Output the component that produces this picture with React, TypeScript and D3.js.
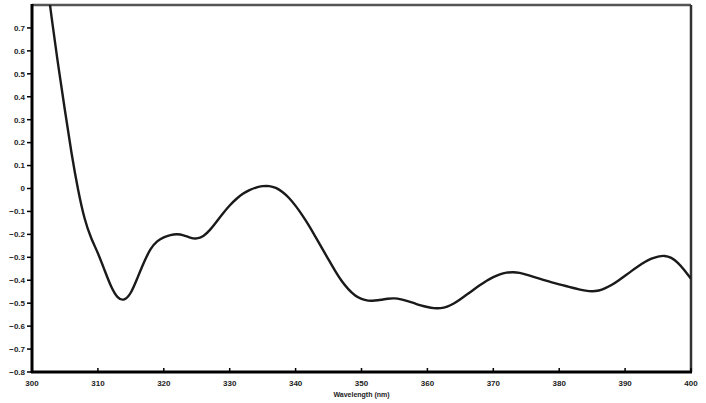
import React from 'react';
import * as d3 from 'd3';

// wavelength (nm) and signal
const wavelengths = [
  302.5, 303, 304, 305, 306, 307, 308, 309, 310, 311, 312, 313, 314, 315, 316, 317, 318, 319,
  320, 321, 322, 323, 324, 325, 326, 327, 328, 329, 330, 331, 332, 333, 334, 335, 336, 337,
  338, 339, 340, 341, 342, 343, 344, 345, 346, 347, 348, 349, 350, 351, 352, 353, 354, 355,
  356, 357, 358, 359, 360, 361, 362, 363, 364, 365, 366, 367, 368, 369, 370, 371, 372, 373,
  374, 375, 376, 377, 378, 379, 380, 381, 382, 383, 384, 385, 386, 387, 388, 389, 390, 391,
  392, 393, 394, 395, 396, 397, 398, 399, 400,
];
const signal = [
  0.85, 0.74, 0.53, 0.34, 0.15, -0.01, -0.14, -0.22, -0.28, -0.355, -0.43, -0.48, -0.49, -0.46,
  -0.39, -0.32, -0.26, -0.228, -0.212, -0.202, -0.198, -0.203, -0.215, -0.22, -0.21, -0.182,
  -0.145, -0.107, -0.073, -0.045, -0.022, -0.006, 0.005, 0.011, 0.012, 0.004, -0.014, -0.04,
  -0.075, -0.115, -0.16, -0.21, -0.26, -0.31, -0.36, -0.405, -0.44, -0.467, -0.483, -0.49, -0.489,
  -0.485, -0.48, -0.478, -0.483, -0.491, -0.5, -0.51, -0.517, -0.522, -0.523, -0.516, -0.502,
  -0.483, -0.462, -0.441, -0.421, -0.402, -0.386, -0.373, -0.366, -0.364, -0.367, -0.375,
  -0.384, -0.393, -0.402, -0.41, -0.418, -0.425, -0.433, -0.44, -0.446, -0.449, -0.446, -0.435,
  -0.42, -0.401, -0.38, -0.359, -0.339, -0.32, -0.305, -0.296, -0.292, -0.3, -0.322, -0.355,
  -0.394,
];
const xTicks = [300, 310, 320, 330, 340, 350, 360, 370, 380, 390, 400];
const yTicks = [0.7, 0.6, 0.5, 0.4, 0.3, 0.2, 0.1, 0, -0.1, -0.2, -0.3, -0.4, -0.5, -0.6, -0.7, -0.8];
const xTitle = 'Wavelength (nm)';

const W = 706;
const H = 403;
const margin = { top: 5, right: 15, bottom: 31, left: 32 };

const App = () => {
  const x = d3.scaleLinear().domain([300, 400]).range([margin.left, W - margin.right]);
  const y = d3.scaleLinear().domain([-0.8, 0.8]).range([H - margin.bottom, margin.top]);

  const data = wavelengths.map((w, i) => [w, signal[i]] as [number, number]);
  const path = d3.line<[number, number]>()
    .x((d) => x(d[0]))
    .y((d) => y(d[1]))
    .curve(d3.curveBasis)(data) as string;

  const font = 'Arial, "Liberation Sans", sans-serif';

  return (
    <svg
      width={W}
      height={H}
      style={{ position: 'absolute', left: 0, top: 0, background: '#fff' }}
      fontFamily={font}
    >
      <defs>
        <clipPath id="plot">
          <rect x={x(300)} y={y(0.8)} width={x(400) - x(300)} height={y(-0.8) - y(0.8)} />
        </clipPath>
      </defs>
      {/* top and right frame */}
      <line x1={x(300)} x2={x(400)} y1={y(0.8)} y2={y(0.8)} stroke="#555" strokeWidth={2.5} />
      <line x1={x(400)} x2={x(400)} y1={y(0.8)} y2={y(-0.8)} stroke="#333" strokeWidth={2.5} />

      <path d={path} fill="none" stroke="#1a1a1a" strokeWidth={2.4} clipPath="url(#plot)" />

      {/* y axis */}
      <line x1={x(300)} x2={x(300)} y1={y(0.8) - 1} y2={y(-0.8) + 1} stroke="#000" strokeWidth={3} />
      {yTicks.map((t) => (
        <g key={t} transform={`translate(${x(300)}, ${y(t)})`}>
          <line x1={-5} x2={0} stroke="#000" strokeWidth={1.5} />
          <text x={-7} dy="0.35em" textAnchor="end" fontSize={8} fontWeight="bold" fill="#222">
            {t === 0 ? '0' : d3.format('.1f')(t)}
          </text>
        </g>
      ))}

      {/* x axis */}
      <line x1={x(300) - 1} x2={x(400) + 1} y1={y(-0.8)} y2={y(-0.8)} stroke="#000" strokeWidth={3} />
      {xTicks.map((t) => (
        <g key={t} transform={`translate(${x(t)}, ${y(-0.8)})`}>
          <line y1={0} y2={-4} stroke="#000" strokeWidth={1.5} />
          <text y={14} textAnchor="middle" fontSize={8} fontWeight="bold" fill="#222">
            {t}
          </text>
        </g>
      ))}
      <text
        x={(x(300) + x(400)) / 2}
        y={H - 6}
        textAnchor="middle"
        fontSize={7}
        fontWeight="bold"
        fill="#222"
      >
        {xTitle}
      </text>
    </svg>
  );
};

export default App;
